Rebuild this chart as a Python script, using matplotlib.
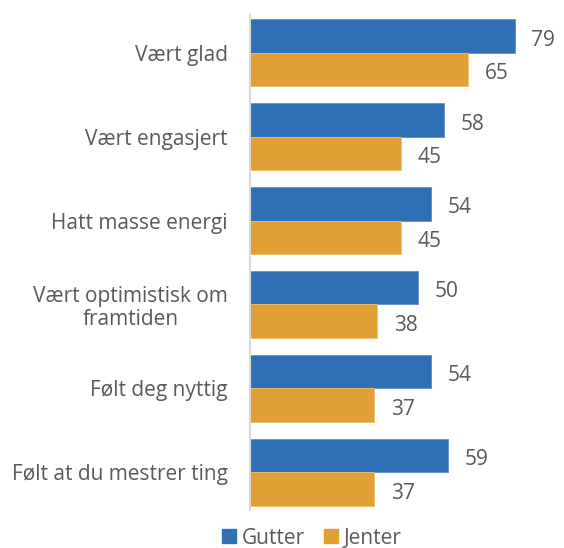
import matplotlib
matplotlib.use("Agg")
import matplotlib.pyplot as plt
import numpy as np
from matplotlib.patches import Patch

categories = ["Vært glad", "Vært engasjert", "Hatt masse energi",
              "Vært optimistisk om\nframtiden", "Følt deg nyttig", "Følt at du mestrer ting"]
gutter = [79, 58, 54, 50, 54, 59]
jenter = [65, 45, 45, 38, 37, 37]
series_names = ["Gutter", "Jenter"]

blue = "#2E6FB5"
orange = "#E0A035"
text_color = "#595959"

plt.rcParams['font.family'] = ['Open Sans', 'DejaVu Sans']

fig = plt.figure(figsize=(5.64, 5.48), dpi=100)
ax = fig.add_axes([250/564, 1-510/548, 0.978-250/564, (510-15)/548])

y = np.arange(len(categories))
h = 0.4
ax.barh(y - h/2, gutter, height=h, color=blue, edgecolor="#5B8FD0", linewidth=0.6)
ax.barh(y + h/2, jenter, height=h, color=orange, edgecolor="#F0C070", linewidth=0.6)

fs = 15
for yi, v in zip(y, gutter):
    ax.annotate(str(v), (v, yi - h/2), xytext=(12, -3), textcoords="offset points",
                ha="left", va="center", fontsize=fs, color=text_color)
for yi, v in zip(y, jenter):
    ax.annotate(str(v), (v, yi + h/2), xytext=(12, -3), textcoords="offset points",
                ha="left", va="center", fontsize=fs, color=text_color)

ax.set_xlim(0, 90)
ax.set_ylim(5.45, -0.45)
ax.set_xticks([])
ax.set_yticks(y)
labels = ax.set_yticklabels(categories, fontsize=fs, color=text_color, linespacing=1.15)
for lab in labels:
    lab.set_multialignment("center")
ax.tick_params(axis="y", length=0, pad=16)
for s in ["top", "right", "bottom"]:
    ax.spines[s].set_visible(False)
ax.spines["left"].set_color("#D9D9D9")
ax.spines["left"].set_linewidth(1.5)

handles = [Patch(color=blue), Patch(color=orange)]
fig.legend(handles, series_names, loc="center", bbox_to_anchor=(312/564, 1-538/548),
           ncol=2, frameon=False, fontsize=fs, labelcolor=text_color, borderpad=0.1,
           handlelength=0.65, handleheight=0.65, handletextpad=0.3, columnspacing=0.9)

fig.savefig("out.png", dpi=100)
